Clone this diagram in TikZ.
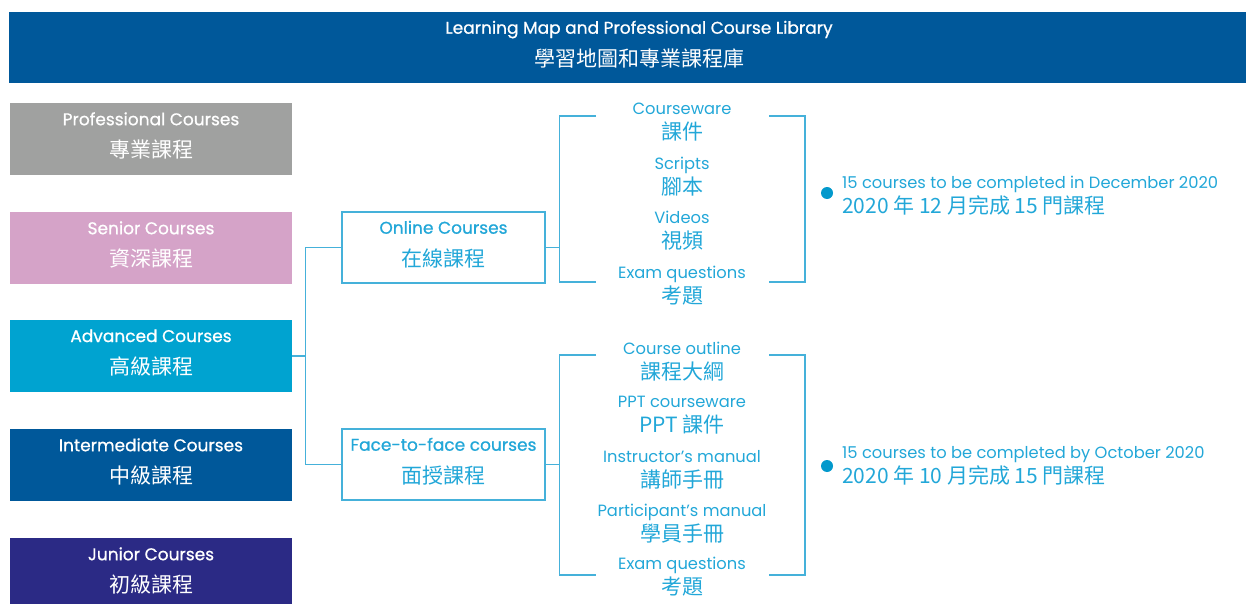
\documentclass[tikz,border=0pt]{standalone}
\usepackage{fontspec}
\setmainfont{Poppins}
\newfontfamily\poppinsmed[FakeBold=0.8]{Poppins}
\newfontfamily\cjk{Noto Sans CJK TC}
\usetikzlibrary{positioning}
\definecolor{mapblue}{HTML}{00589A}
\definecolor{progray}{HTML}{A0A1A0}
\definecolor{seniorpink}{HTML}{D5A3C8}
\definecolor{advcyan}{HTML}{00A3D0}
\definecolor{juniorindigo}{HTML}{2B2A85}
\definecolor{itemtext}{HTML}{22A7D8}
\definecolor{linkline}{HTML}{45B1DA}
\definecolor{dotblue}{HTML}{0399CC}
\newcommand{\zhline}[1]{{\cjk\fontsize{21}{25}\selectfont #1}}
\newcommand{\zhhead}[1]{{\cjk\fontsize{21}{32.5}\selectfont #1}}
\tikzset{level/.style = {fill=#1, text=white, minimum width=282, minimum height=72, inner sep=0, text depth=8, align=center, font=\poppinsmed\fontsize{17}{32.5}\selectfont}}
\tikzset{track/.style = {draw=linkline, line width=1.2, fill=white, text=itemtext, minimum width=203, minimum height=71, inner sep=0, text depth=8, align=center, font=\poppinsmed\fontsize{17}{32.5}\selectfont}}
\tikzset{part/.style = {text=itemtext, inner sep=0, align=center, font=\fontsize{16.3}{25}\selectfont}}
\tikzset{link/.style = {draw=linkline, line width=1.2}}
\tikzset{note/.style = {text=itemtext, inner sep=0, anchor=west, align=left, font=\fontsize{16.3}{25}\selectfont}}

\begin{document}
\begin{tikzpicture}[x=1pt, y=-1pt]
    \useasboundingbox (0, 0) rectangle (1246, 604);

    \node [level=mapblue, minimum width=1260, minimum height=71] (title) at (639, 47.5) {Learning Map and Professional Course Library\\\zhhead{學習地圖和專業課程庫}};

    \node [level=progray] (pro) at (151, 139) {Professional Courses\\\zhhead{專業課程}};
    \node [level=seniorpink] (senior) at (151, 248) {Senior Courses\\\zhhead{資深課程}};
    \node [level=advcyan] (adv) at (151, 356) {Advanced Courses\\\zhhead{高級課程}};
    \node [level=mapblue] (inter) at (151, 465) {Intermediate Courses\\\zhhead{中級課程}};
    \node [level=juniorindigo] (junior) at (151, 574) {Junior Courses\\\zhhead{初級課程}};

    \node [track] (online) at (443.5, 247.5) {Online Courses\\\zhhead{在線課程}};
    \node [track] (face) at (443.5, 464.5) {Face-to-face courses\\\zhhead{面授課程}};

    \draw [link] (adv.east) -- ++(13, 0) coordinate (split);
    \draw [link] (split) |- (online.west);
    \draw [link] (split) |- (face.west);

    % online parts
    \node [part] (ware) at (682, 122) {Courseware\\\zhline{課件}};
    \node [part] (script) at (682, 176.5) {Scripts\\\zhline{腳本}};
    \node [part] (video) at (682, 230.5) {Videos\\\zhline{視頻}};
    \node [part] (exam) at (682, 285.5) {Exam questions\\\zhline{考題}};

    \draw [link] (online.east) -- ++(14, 0) coordinate (onjoin);
    \coordinate (ontop) at (596, 116);
    \coordinate (onbot) at (596, 282);
    \coordinate (ontopr) at (769, 116);
    \coordinate (onbotr) at (769, 282);
    \draw [link] (ontop) -| (onjoin) |- (onbot);
    \draw [link] (ontopr) -- ++(36, 0) coordinate (onright) -- (onright |- onbotr) -- (onbotr);

    % face-to-face parts
    \node [part] (outline) at (682, 361.5) {Course outline\\\zhline{課程大綱}};
    \node [part] (ppt) at (682, 415) {PPT courseware\\\zhline{PPT 課件}};
    \node [part] (tutor) at (682, 469.5) {Instructor's manual\\\zhline{講師手冊}};
    \node [part] (learner) at (682, 524) {Participant's manual\\\zhline{學員手冊}};
    \node [part] (test) at (682, 577) {Exam questions\\\zhline{考題}};

    \draw [link] (face.east) -- ++(14, 0) coordinate (fajoin);
    \coordinate (fatop) at (596, 355);
    \coordinate (fabot) at (596, 575);
    \coordinate (fatopr) at (769, 355);
    \coordinate (fabotr) at (769, 575);
    \draw [link] (fatop) -| (fajoin) |- (fabot);
    \draw [link] (fatopr) -- ++(36, 0) coordinate (faright) -- (faright |- fabotr) -- (fabotr);

    \node [circle, fill=dotblue, inner sep=0, minimum size=12] (ondot) at (827, 193) {};
    \node [note] (onnote) at (842, 195.5) {15 courses to be completed in December 2020\\\zhline{2020 年 12 月完成 15 門課程}};
    \node [circle, fill=dotblue, inner sep=0, minimum size=12] (fadot) at (827, 466) {};
    \node [note] (fanote) at (842, 466) {15 courses to be completed by October 2020\\\zhline{2020 年 10 月完成 15 門課程}};
\end{tikzpicture}
\end{document}
